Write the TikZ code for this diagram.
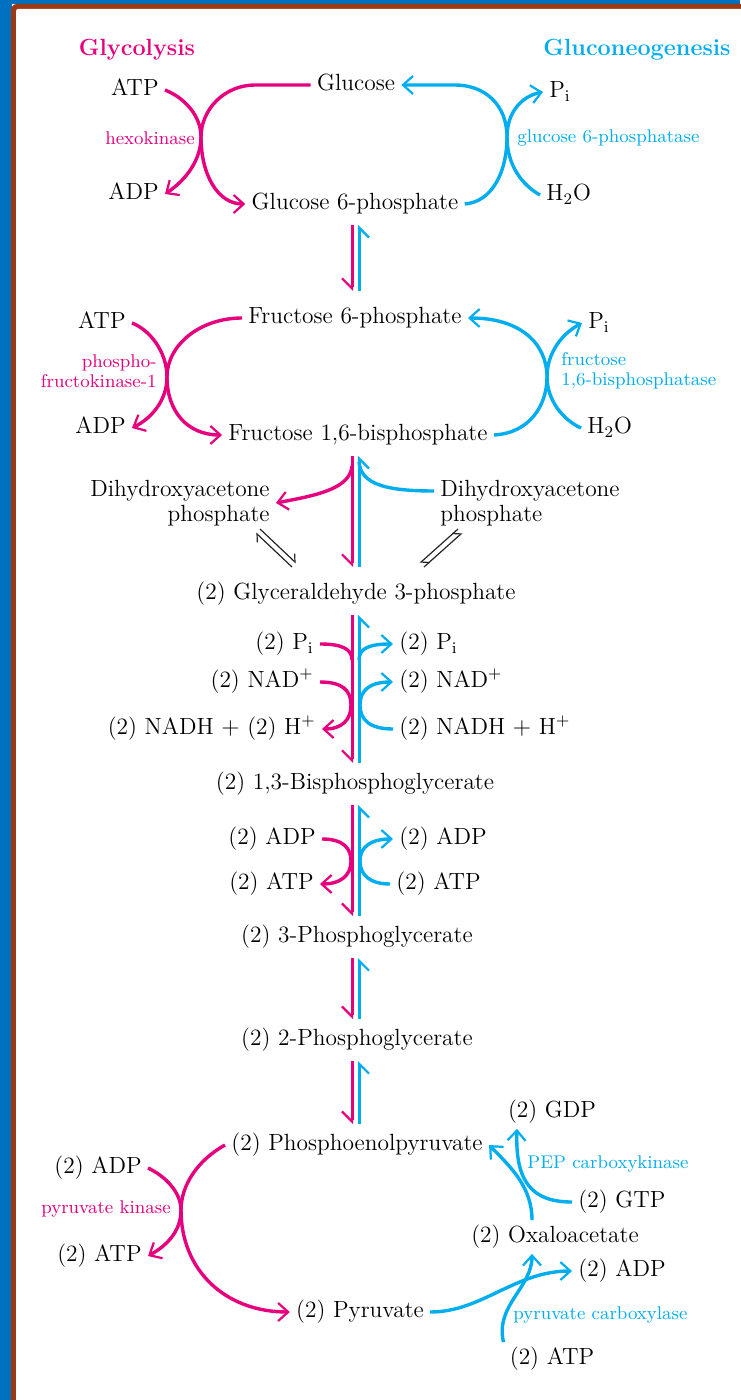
\documentclass[tikz,border=0pt]{standalone}
\usetikzlibrary{arrows.meta,calc}
\definecolor{glyc}{RGB}{230,0,126}
\definecolor{gngc}{RGB}{0,174,239}
\definecolor{frameblue}{RGB}{0,112,192}
\definecolor{framebrown}{RGB}{156,56,20}
\newcommand\mainsize{\fontsize{11.7}{12.5}\selectfont}
\newcommand\enzsize{\fontsize{9.2}{10}\selectfont}
\tikzset{
  met/.style={inner sep=3pt,font=\mainsize,text height=8pt,text depth=2.5pt},
  metml/.style={inner sep=3pt,font=\mainsize},
  enz/.style={inner sep=3pt,font=\enzsize},
  glyarrow/.style={draw=glyc,line width=1.7pt,-{Straight Barb[length=5pt,width=9pt,line width=1.1pt]}},
  gngarrow/.style={draw=gngc,line width=1.7pt,-{Straight Barb[length=5pt,width=9pt,line width=1.1pt]}},
  glyline/.style={draw=glyc,line width=1.7pt},
  gngline/.style={draw=gngc,line width=1.7pt},
  glyrev/.style={draw=glyc,line width=1.5pt,shorten <=2pt,shorten >=2pt,-{Straight Barb[harpoon,swap,length=5pt,width=10pt,line width=1.1pt]}},
  gngrev/.style={draw=gngc,line width=1.5pt,shorten <=2pt,shorten >=2pt,-{Straight Barb[harpoon,swap,length=5pt,width=10pt,line width=1.1pt]}},
  eqarrow/.style={draw=black!85,line width=0.6pt,-{Straight Barb[harpoon,length=3pt,width=6pt]}}
}
\begin{document}
\begin{tikzpicture}[x=0.5pt,y=-0.5pt]
\useasboundingbox (0,0) rectangle (740,1400);
\fill[frameblue] (0,0) rectangle (740,4.5);
\fill[frameblue] (0,0) rectangle (12,1400);
\fill[framebrown,rounded corners=3pt] (11,4) rectangle (760,1420);
\fill[white,rounded corners=1pt] (16,9) rectangle (760,1420);

\node[font=\mainsize\bfseries,text=glyc] (glyTitle) at (137,50) {Glycolysis};
\node[font=\mainsize\bfseries,text=gngc] (gngTitle) at (637,50) {Gluconeogenesis};

\coordinate (mcol) at (352,0);
\coordinate (ccol) at (359,0);

\node[met] (glc) at (356,85) {Glucose};
\node[met] (g6p) at (355,204) {Glucose 6-phosphate};
\node[met,anchor=east] (atpA) at (165,90) {ATP};
\node[met,anchor=east] (adpA) at (165,194) {ADP};
\node[met,anchor=west] (piA) at (543,92) {P$_\mathrm{i}$};
\node[met,anchor=west] (h2oA) at (540,195) {H$_2$O};
\node[enz,text=glyc] (hkName) at (150,138) {hexokinase};
\node[enz,text=gngc,anchor=west] (g6paseName) at (511,138) {glucose 6-phosphatase};
\coordinate (hkX) at (201,137);
\coordinate (gpX) at (507,137);
\draw[glyarrow] (glc.west) -- (255,85) .. controls (224,85) and (201,110) .. (hkX) .. controls (201,175) and (218,204) .. (g6p.west);
\draw[glyarrow] (atpA.east) .. controls (185,98) and (201,116) .. (hkX) .. controls (201,160) and (186,180) .. (adpA.east);
\draw[gngarrow] (g6p.east) .. controls (492,202) and (507,172) .. (gpX) .. controls (507,105) and (485,85) .. (455,85) -- (glc.east);
\draw[gngarrow] (h2oA.west) .. controls (522,185) and (507,165) .. (gpX) .. controls (507,112) and (522,96) .. (piA.west);

\node[met] (f6p) at (355,318) {Fructose 6-phosphate};
\node[met] (f16bp) at (358,435) {Fructose 1,6-bisphosphate};
\draw[glyrev,shorten >=5pt] (mcol |- g6p.south) -- (mcol |- f6p.north);
\draw[gngrev,shorten <=5pt] (ccol |- f6p.north) -- (ccol |- g6p.south);

\node[met,anchor=east] (atpB) at (132,323) {ATP};
\node[met,anchor=east] (adpB) at (132,428) {ADP};
\node[met,anchor=west] (piB) at (582,323) {P$_\mathrm{i}$};
\node[met,anchor=west] (h2oB) at (581,428) {H$_2$O};
\node[enz,text=glyc,anchor=east,align=right] (pfkName) at (163,371) {phospho-\\fructokinase-1};
\node[enz,text=gngc,anchor=west,align=left] (fbpaseName) at (555,371) {fructose\\1,6-bisphosphatase};
\coordinate (pfkX) at (167,377);
\coordinate (fbpX) at (547,377);
\draw[glyarrow] (f6p.west) .. controls (200,318) and (167,345) .. (pfkX) .. controls (167,412) and (188,435) .. (f16bp.west);
\draw[glyarrow] (atpB.east) .. controls (150,330) and (167,352) .. (pfkX) .. controls (167,400) and (152,418) .. (adpB.east);
\draw[gngarrow] (f16bp.east) .. controls (530,433) and (547,405) .. (fbpX) .. controls (547,345) and (522,318) .. (f6p.east);
\draw[gngarrow] (h2oB.west) .. controls (563,420) and (547,400) .. (fbpX) .. controls (547,352) and (563,333) .. (piB.west);

\node[met] (gap) at (356,594) {(2) Glyceraldehyde 3-phosphate};
\node[metml,align=right,anchor=east] (dhapL) at (276,503) {Dihydroxyacetone\\phosphate};
\node[metml,align=left,anchor=west] (dhapR) at (434,503) {Dihydroxyacetone\\phosphate};
\draw[glyrev,shorten >=5pt] (mcol |- f16bp.south) -- (mcol |- gap.north);
\draw[gngrev,shorten <=5pt] (ccol |- gap.north) -- (ccol |- f16bp.south);
\coordinate (mBr) at (352,466);
\coordinate (cBr) at (359,462);
\draw[glyarrow] (mBr) .. controls (350,490) and (312,496) .. (dhapL.east);
\draw[gngline] ([yshift=6pt]dhapR.west) .. controls (385,491) and (361,484) .. (cBr);
\coordinate (eqLa) at (258,531);
\coordinate (eqLb) at (294,565);
\coordinate (eqRa) at (460,531);
\coordinate (eqRb) at (422,565);
\draw[eqarrow] ($(eqLa)+(2,-2)$) -- ($(eqLb)+(2,-2)$);
\draw[eqarrow] ($(eqLb)+(-2,2)$) -- ($(eqLa)+(-2,2)$);
\draw[eqarrow] ($(eqRa)+(-2,-2)$) -- ($(eqRb)+(-2,-2)$);
\draw[eqarrow] ($(eqRb)+(2,2)$) -- ($(eqRa)+(2,2)$);

\node[met] (bpg) at (355,784) {(2) 1,3-Bisphosphoglycerate};
\draw[glyrev] (mcol |- gap.south) -- (mcol |- bpg.north);
\draw[gngrev] (ccol |- bpg.north) -- (ccol |- gap.south);
\node[met,anchor=east] (piC) at (320,644) {(2) P$_\mathrm{i}$};
\node[met,anchor=east] (nadC) at (320,682) {(2) NAD$^+$};
\node[met,anchor=east] (nadhC) at (322,729) {(2) NADH $+$ (2) H$^+$};
\node[met,anchor=west] (piD) at (393,644) {(2) P$_\mathrm{i}$};
\node[met,anchor=west] (nadD) at (393,682) {(2) NAD$^+$};
\node[met,anchor=west] (nadhD) at (393,729) {(2) NADH $+$ H$^+$};
\coordinate (mPi) at (352,660);
\coordinate (mNad) at (351,705);
\coordinate (cPi) at (359,660);
\coordinate (cNad) at (360,705);
\draw[glyline] (piC.east) .. controls (340,644) and (352,648) .. (mPi);
\draw[glyarrow] (nadC.east) .. controls (342,682) and (351,690) .. (mNad) .. controls (351,720) and (342,729) .. (nadhC.east);
\draw[gngarrow] (cPi) .. controls (359,648) and (370,644) .. (piD.west);
\draw[gngarrow] (nadhD.west) .. controls (370,729) and (360,720) .. (cNad) .. controls (360,690) and (370,682) .. (nadD.west);

\node[met] (pg3) at (357,937) {(2) 3-Phosphoglycerate};
\draw[glyrev] (mcol |- bpg.south) -- (mcol |- pg3.north);
\draw[gngrev] (ccol |- pg3.north) -- (ccol |- bpg.south);
\node[met,anchor=east] (adpE) at (322,839) {(2) ADP};
\node[met,anchor=east] (atpE) at (320,884) {(2) ATP};
\node[met,anchor=west] (adpF) at (393,839) {(2) ADP};
\node[met,anchor=west] (atpF) at (390,884) {(2) ATP};
\coordinate (mE) at (351,861);
\coordinate (cE) at (360,861);
\draw[glyarrow] (adpE.east) .. controls (343,839) and (351,848) .. (mE) .. controls (351,876) and (340,884) .. (atpE.east);
\draw[gngarrow] (atpF.west) .. controls (370,884) and (360,875) .. (cE) .. controls (360,846) and (372,839) .. (adpF.west);

\node[met] (pg2) at (357,1040) {(2) 2-Phosphoglycerate};
\draw[glyrev] (mcol |- pg3.south) -- (mcol |- pg2.north);
\draw[gngrev] (ccol |- pg2.north) -- (ccol |- pg3.south);

\node[met] (pep) at (357,1145) {(2) Phosphoenolpyruvate};
\draw[glyrev] (mcol |- pg2.south) -- (mcol |- pep.north);
\draw[gngrev] (ccol |- pep.north) -- (ccol |- pg2.south);

\node[met] (pyr) at (360,1312) {(2) Pyruvate};
\node[met,anchor=east] (adpG) at (148,1168) {(2) ADP};
\node[met,anchor=east] (atpG) at (148,1256) {(2) ATP};
\node[enz,text=glyc] (pkName) at (106,1209) {pyruvate kinase};
\coordinate (pkX) at (181,1210);
\draw[glyarrow] (pep.west) .. controls (198,1160) and (181,1185) .. (pkX) .. controls (181,1270) and (225,1312) .. (pyr.west);
\draw[glyarrow] (adpG.east) .. controls (165,1176) and (181,1192) .. (pkX) .. controls (181,1232) and (166,1246) .. (atpG.east);

\node[met] (gdp) at (552,1112) {(2) GDP};
\node[met] (oaa) at (555,1237) {(2) Oxaloacetate};
\node[met,anchor=west] (gtp) at (572,1202) {(2) GTP};
\node[met,anchor=west] (adpH) at (572,1271) {(2) ADP};
\node[met] (atpH) at (552,1359) {(2) ATP};
\node[enz,text=gngc,anchor=west] (pepckName) at (521,1164) {PEP carboxykinase};
\node[enz,text=gngc,anchor=west] (pcName) at (507,1315) {pyruvate carboxylase};
\draw[gngarrow] ([xshift=-11.5pt]oaa.north) .. controls (532,1188) and (512,1168) .. (pep.east);
\draw[gngarrow] (gtp.west) .. controls (532,1202) and (515,1182) .. ([xshift=-17.5pt]gdp.south);
\draw[gngarrow] (pyr.east) .. controls (482,1312) and (515,1271) .. (adpH.west);
\draw[gngarrow] (atpH.north west) .. controls (495,1305) and (532,1288) .. ([xshift=-11.5pt]oaa.south);
\end{tikzpicture}
\end{document}
